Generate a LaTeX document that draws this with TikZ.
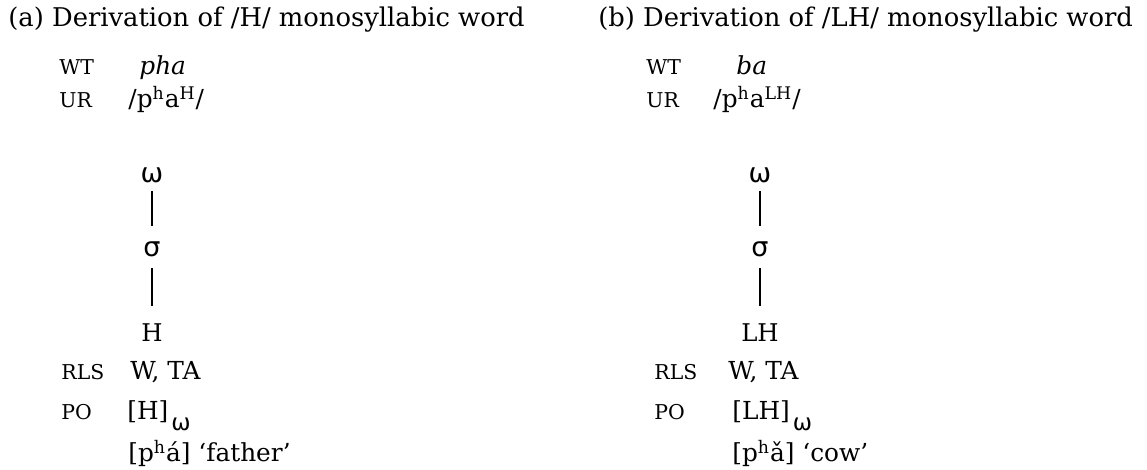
\documentclass[tikz,border=0pt]{standalone}
\usepackage{fontspec}
\setmainfont{DejaVu Serif}
\newfontfamily\greekfont{DejaVu Sans}
\usetikzlibrary{positioning}
\tikzset{ >=latex }
\newcommand\sh[1]{\textsuperscript{#1}}
\newcommand\phon[1]{\hspace{1.5pt}\raisebox{-5.5pt}{\greekfont\fontsize{11.5}{13}\selectfont #1}}
\tikzset{
  header/.style={anchor=base west, inner sep=0pt, font=\fontsize{12.9}{15}\selectfont},
  tier/.style={anchor=base west, inner sep=0pt, font=\fontsize{10.2}{12}\selectfont},
  form/.style={anchor=base west, inner sep=0pt, font=\fontsize{12.4}{14}\selectfont},
  tone/.style={anchor=base, inner sep=0pt, font=\fontsize{12.2}{14}\selectfont},
  prosody/.style={anchor=base, inner sep=0pt, font=\greekfont\fontsize{13.5}{15}\selectfont},
  assoc/.style={line width=1pt},
  upper/.style={assoc, shorten <=3.5pt, shorten >=8pt},   % omega -- sigma
  lower/.style={assoc, shorten <=5pt, shorten >=9pt},     % sigma -- tone
}

\begin{document}
\begin{tikzpicture}[x=0.5pt, y=-0.5pt]
    \useasboundingbox (0,0) rectangle (1147,470);
    % (a) the /H/ word
    \node[header] (titleA) at (8,27) {(a) Derivation of /H/ monosyllabic word};
    \node[tier] (wtA) at (59,75)  {WT};
    \node[form] (wordA) at (139,75) {\itshape pha};
    \node[tier] (urA) at (59,108) {UR};
    \node[form] (urFormA) at (128,108) {/p\sh{h}a\sh{H}/};
    % prosodic tree
    \node[prosody] (omA) at (152,183) {ω};                  % prosodic word
    \node[prosody] (sigA) at (152,257) {σ};                 % syllable
    \node[tone]    (toneA) at (152,342) {H};                % tone
    \draw[upper] (omA.south) -- (sigA.north);
    \draw[lower] (sigA.south) -- (toneA.north);
    % rules and output
    \node[tier] (rlsA) at (61,380) {RLS};
    \node[form] (rulesA) at (130,380) {W, TA};
    \node[tier] (poA) at (61,420) {PO};
    \node[form] (outA) at (127,420) {[H]\phon{ω}};
    \node[form] (glossA) at (128,462) {[p\sh{h}á] ‘father’};

    % (b) the /LH/ word
    \node[header] (titleB) at (598,27) {(b) Derivation of /LH/ monosyllabic word};
    \node[tier] (wtB) at (646,75)  {WT};
    \node[form] (wordB) at (736,75) {\itshape ba};
    \node[tier] (urB) at (646,108) {UR};
    \node[form] (urFormB) at (713,108) {/p\sh{h}a\sh{LH}/};
    % prosodic tree
    \node[prosody] (omB) at (760,183) {ω};                  % prosodic word
    \node[prosody] (sigB) at (760,257) {σ};                 % syllable
    \node[tone]    (toneB) at (760,342) {LH};               % contour tone
    \draw[upper] (omB.south) -- (sigB.north);
    \draw[lower] (sigB.south) -- (toneB.north);
    % rules and output
    \node[tier] (rlsB) at (654,380) {RLS};
    \node[form] (rulesB) at (728,380) {W, TA};
    \node[tier] (poB) at (654,420) {PO};
    \node[form] (outB) at (732,420) {[LH]\phon{ω}};
    \node[form] (glossB) at (732,462) {[p\sh{h}ǎ] ‘cow’};
\end{tikzpicture}
\end{document}
